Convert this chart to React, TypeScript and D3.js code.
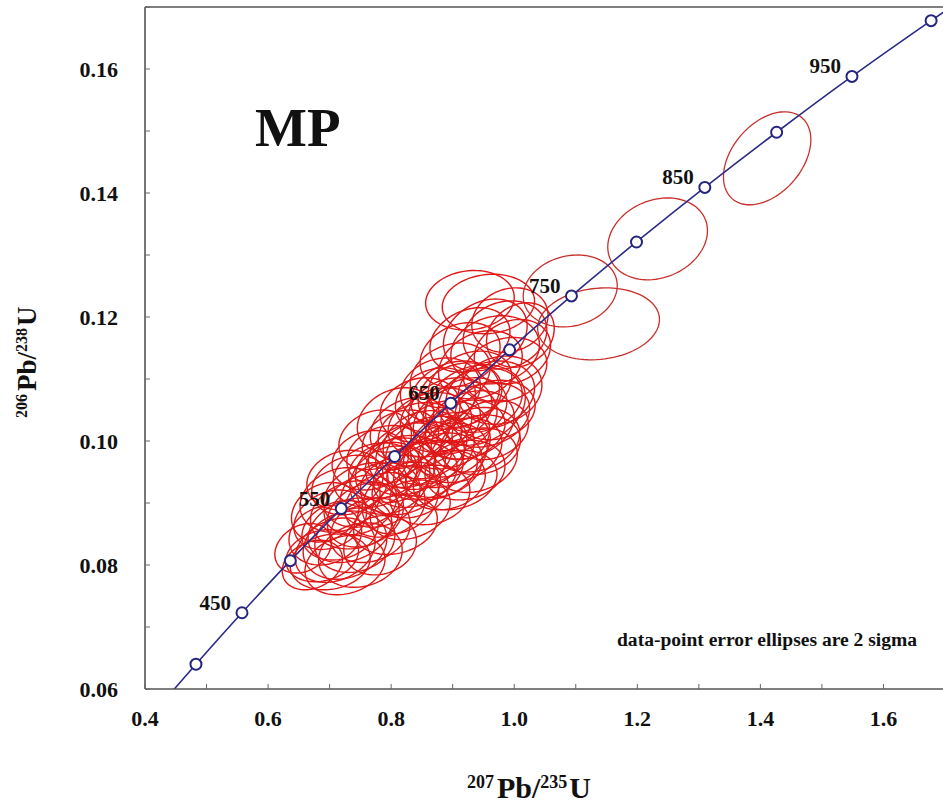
import React from "react";
import * as d3 from "d3";

// Concordia curve
const concordiaAge = [375, 400, 450, 500, 550, 600, 650, 700, 750, 800, 850, 900, 950, 1000, 1020];
const concordiaX = [0.4468, 0.4828, 0.5576, 0.6362, 0.7189, 0.8057, 0.8968, 0.9925, 1.093, 1.1987, 1.3097, 1.4264, 1.5488, 1.6774, 1.7306];
const concordiaY = [0.0599, 0.0640, 0.0723, 0.0807, 0.0891, 0.0975, 0.1061, 0.1147, 0.1234, 0.1321, 0.1409, 0.1498, 0.1588, 0.1678, 0.1714];
const markerAges = [400, 450, 500, 550, 600, 650, 700, 750, 800, 850, 900, 950, 1000];
const labelAges = [450, 550, 650, 750, 850, 950];

// Error ellipses (2 sigma): centre, half-widths, correlation
const ellX = [0.688, 0.701, 0.709, 0.725, 0.693, 0.733, 0.693, 0.741, 0.717, 0.758,
  0.725, 0.774, 0.750, 0.790, 0.798, 0.766, 0.701, 0.750, 0.807, 0.782,
  0.831, 0.839, 0.855, 0.880, 0.815, 0.888, 0.863, 0.912, 0.847, 0.896,
  0.928, 0.912, 0.945, 0.953, 0.928, 0.880, 0.961, 0.937, 0.896, 0.831,
  0.790, 0.815, 0.863, 0.904, 0.872, 0.807, 0.847, 0.920, 0.888, 0.823,
  0.774, 0.961, 0.945, 0.969, 0.985, 0.953, 0.985, 0.958, 0.997, 0.928,
  0.977, 0.937, 0.912, 0.993, 1.091, 1.137, 1.233, 1.411, 0.672, 0.725, 0.657,
  0.807, 0.847, 0.872, 0.896, 0.920, 0.904, 0.937, 0.880, 0.831, 0.855,
  0.782, 0.815, 0.758, 0.733, 0.766, 0.945, 0.920, 0.969, 0.904, 0.863,
  0.888, 0.790, 0.831, 0.741, 0.717, 0.928, 1.010];
const ellY = [0.0815, 0.0805, 0.0824, 0.0832, 0.0848, 0.0856, 0.0885, 0.0881, 0.0905, 0.0913,
  0.0937, 0.0945, 0.0897, 0.0897, 0.0937, 0.0856, 0.0873, 0.0816, 0.0865, 0.0832,
  0.0977, 0.0945, 0.0994, 0.0961, 0.1002, 0.1010, 0.1026, 0.0985, 0.1050, 0.1050,
  0.1026, 0.1074, 0.0994, 0.1042, 0.1090, 0.1082, 0.1074, 0.0969, 0.1106, 0.0921,
  0.0977, 0.0905, 0.0913, 0.0937, 0.1066, 0.1034, 0.1010, 0.1018, 0.0977, 0.0961,
  0.1002, 0.1018, 0.1123, 0.1147, 0.1115, 0.1171, 0.1171, 0.1221, 0.1144, 0.1163,
  0.1082, 0.1058, 0.1139, 0.1195, 0.1242, 0.1189, 0.1326, 0.1456, 0.0800, 0.0800, 0.0827,
  0.0953, 0.0977, 0.0953, 0.0994, 0.0953, 0.1034, 0.1002, 0.1034, 0.1018, 0.0953,
  0.0913, 0.0929, 0.0881, 0.0929, 0.0969, 0.1066, 0.1050, 0.1050, 0.1074, 0.0985,
  0.0937, 0.0953, 0.0889, 0.0840, 0.0856, 0.1227, 0.1171];
const ellSX = [0.059, 0.065, 0.065, 0.068, 0.059, 0.068, 0.055, 0.072, 0.065, 0.068,
  0.062, 0.068, 0.059, 0.065, 0.065, 0.065, 0.059, 0.068, 0.068, 0.059,
  0.068, 0.068, 0.068, 0.068, 0.062, 0.072, 0.068, 0.068, 0.065, 0.068,
  0.072, 0.068, 0.065, 0.072, 0.068, 0.065, 0.072, 0.068, 0.065, 0.062,
  0.062, 0.062, 0.065, 0.068, 0.065, 0.062, 0.068, 0.065, 0.068, 0.065,
  0.059, 0.062, 0.068, 0.072, 0.068, 0.068, 0.068, 0.075, 0.062, 0.065,
  0.068, 0.081, 0.065, 0.062, 0.0764, 0.099, 0.081, 0.071, 0.049, 0.065, 0.046,
  0.065, 0.072, 0.068, 0.065, 0.065, 0.068, 0.072, 0.065, 0.065, 0.062,
  0.065, 0.065, 0.062, 0.062, 0.062, 0.068, 0.068, 0.065, 0.072, 0.072,
  0.065, 0.059, 0.065, 0.065, 0.062, 0.072, 0.055];
const ellSY = [0.0042, 0.0045, 0.0052, 0.0055, 0.0048, 0.0052, 0.0048, 0.0055, 0.0052, 0.0052,
  0.0048, 0.0052, 0.0048, 0.0052, 0.0055, 0.0052, 0.0048, 0.0052, 0.0048, 0.0048,
  0.0052, 0.0052, 0.0055, 0.0052, 0.0048, 0.0055, 0.0052, 0.0052, 0.0052, 0.0052,
  0.0055, 0.0052, 0.0048, 0.0052, 0.0055, 0.0052, 0.0055, 0.0052, 0.0052, 0.0045,
  0.0048, 0.0055, 0.0048, 0.0048, 0.0052, 0.0052, 0.0052, 0.0048, 0.0052, 0.0048,
  0.0048, 0.0048, 0.0055, 0.0055, 0.0052, 0.0058, 0.0055, 0.0048, 0.0052, 0.0052,
  0.0055, 0.0065, 0.0052, 0.0052, 0.0058, 0.0058, 0.0066, 0.0075, 0.0040, 0.0048, 0.0040,
  0.0052, 0.0055, 0.0048, 0.0052, 0.0048, 0.0055, 0.0052, 0.0052, 0.0052, 0.0048,
  0.0052, 0.0048, 0.0052, 0.0048, 0.0048, 0.0052, 0.0052, 0.0048, 0.0055, 0.0055,
  0.0048, 0.0045, 0.0048, 0.0052, 0.0048, 0.0048, 0.0052];
const ellRho = [0.20, 0.15, 0.25, 0.20, 0.15, 0.25, 0.20, 0.15, 0.20, 0.25,
  0.15, 0.20, 0.25, 0.15, 0.20, 0.20, 0.25, 0.15, 0.20, 0.15,
  0.20, 0.25, 0.15, 0.20, 0.25, 0.15, 0.20, 0.25, 0.15, 0.20,
  0.25, 0.20, 0.15, 0.20, 0.25, 0.15, 0.20, 0.20, 0.25, 0.15,
  0.20, 0.25, 0.15, 0.20, 0.20, 0.25, 0.15, 0.20, 0.25, 0.15,
  0.20, 0.20, 0.25, 0.15, 0.20, 0.25, 0.15, 0.10, 0.20, 0.25,
  0.15, 0.20, 0.25, 0.15, 0.15, 0.12, 0.20, 0.40, 0.25, 0.20, 0.25,
  0.20, 0.15, 0.25, 0.20, 0.15, 0.25, 0.20, 0.15, 0.20, 0.25,
  0.20, 0.15, 0.25, 0.20, 0.15, 0.20, 0.25, 0.15, 0.20, 0.25,
  0.15, 0.20, 0.25, 0.15, 0.20, 0.10, 0.20];
const distinctStart = 64;
const distinctEnd = 67;

const xTicks = [0.4, 0.5, 0.6, 0.7, 0.8, 0.9, 1.0, 1.1, 1.2, 1.3, 1.4, 1.5, 1.6];
const xTickLabels = ["0.4", "", "0.6", "", "0.8", "", "1.0", "", "1.2", "", "1.4", "", "1.6"];
const yTicks = [0.06, 0.07, 0.08, 0.09, 0.10, 0.11, 0.12, 0.13, 0.14, 0.15, 0.16, 0.17];
const yTickLabels = ["0.06", "", "0.08", "", "0.10", "", "0.12", "", "0.14", "", "0.16", ""];

const W = 943, H = 805;
const L = 145, T = 7, R = 945, B = 689;
const serif = "'Liberation Serif', 'Times New Roman', serif";

export default function App() {
  const x = d3.scaleLinear().domain([0.4, 1.7]).range([L, R]);
  const y = d3.scaleLinear().domain([0.06, 0.17]).range([B, T]);

  const conc = concordiaX.map((cx, i) => [x(cx), y(concordiaY[i])] as [number, number]);
  const concPath = d3.line().curve(d3.curveCatmullRom)(conc) || "";

  const steps = d3.range(0, 90);
  const ellLine = d3.line().curve(d3.curveLinearClosed);
  const ellipses = ellX.map((cx, i) => {
    const r = ellRho[i];
    const pts = steps.map((k) => {
      const t = (k / 90) * Math.PI * 2;
      const dx = ellSX[i] * Math.cos(t);
      const dy = ellSY[i] * (r * Math.cos(t) + Math.sqrt(1 - r * r) * Math.sin(t));
      return [x(cx + dx), y(ellY[i] + dy)] as [number, number];
    });
    return ellLine(pts) || "";
  });

  const markerIdx = markerAges.map((a) => concordiaAge.indexOf(a));

  return (
    <svg width={W} height={H} style={{ position: "absolute", left: 0, top: 0, background: "#fff" }}>
      <defs>
        <clipPath id="plotClip">
          <rect x={L} y={T} width={R - L} height={B - T} />
        </clipPath>
      </defs>
      <rect x={0} y={0} width={W} height={H} fill="#fff" />
      <g clipPath="url(#plotClip)">
        {ellipses.map((d, i) => (
          <path key={i} d={d} fill="none"
            stroke={i >= distinctStart && i <= distinctEnd ? "#c8302c" : "#e01818"}
            strokeWidth={i >= distinctStart && i <= distinctEnd ? 1.3 : 1.4} />
        ))}
        <path d={concPath} fill="none" stroke="#2b2b86" strokeWidth={1.6} />
        {markerIdx.map((j, i) => (
          <circle key={i} cx={x(concordiaX[j])} cy={y(concordiaY[j])} r={5.5} fill="#fff" stroke="#25257f" strokeWidth={2} />
        ))}
      </g>
      {labelAges.map((a, i) => {
        const j = concordiaAge.indexOf(a);
        return (
          <text key={i} x={x(concordiaX[j]) - 11} y={y(concordiaY[j]) - 3} textAnchor="end"
            fontFamily={serif} fontWeight="bold" fontSize={21} fill="#111">{a}</text>
        );
      })}
      <line x1={L} y1={T} x2={W} y2={T} stroke="#555" strokeWidth={1.6} />
      <line x1={L} y1={T} x2={L} y2={B} stroke="#555" strokeWidth={1.6} />
      <line x1={L} y1={B} x2={W} y2={B} stroke="#555" strokeWidth={1.6} />
      {xTicks.map((v, i) => (
        <g key={i}>
          <line x1={x(v)} y1={B} x2={x(v)} y2={B - 5} stroke="#666" strokeWidth={1} />
          {xTickLabels[i] && (
            <text x={x(v)} y={726} textAnchor="middle" fontFamily={serif} fontWeight="bold" fontSize={22} fill="#111">{xTickLabels[i]}</text>
          )}
        </g>
      ))}
      {yTicks.map((v, i) => (
        <g key={i}>
          <line x1={L} y1={y(v)} x2={L + 5} y2={y(v)} stroke="#666" strokeWidth={1} />
          {yTickLabels[i] && (
            <text x={118} y={y(v) + 8} textAnchor="end" fontFamily={serif} fontWeight="bold" fontSize={22} fill="#111">{yTickLabels[i]}</text>
          )}
        </g>
      ))}
      <text x={255} y={146} fontFamily={serif} fontWeight="bold" fontSize={55} fill="#111">MP</text>
      <text x={617} y={646} fontFamily={serif} fontWeight="bold" fontSize={18} fill="#111"
        textLength={300} lengthAdjust="spacingAndGlyphs">data-point error ellipses are 2 sigma</text>
      <text x={467} y={798} fontFamily={serif} fontWeight="bold" fill="#111">
        <tspan fontSize={18} dy={-10}>207</tspan>
        <tspan fontSize={30} dy={10} dx={3}>Pb/</tspan>
        <tspan fontSize={18} dy={-10}>235</tspan>
        <tspan fontSize={30} dy={10} dx={2}>U</tspan>
      </text>
      <text transform="translate(36,418) rotate(-90)" fontFamily={serif} fontWeight="bold" fill="#111">
        <tspan fontSize={16} dy={-9}>206</tspan>
        <tspan fontSize={27} dy={9} dx={3}>Pb/</tspan>
        <tspan fontSize={16} dy={-9}>238</tspan>
        <tspan fontSize={27} dy={9} dx={2}>U</tspan>
      </text>
    </svg>
  );
}
